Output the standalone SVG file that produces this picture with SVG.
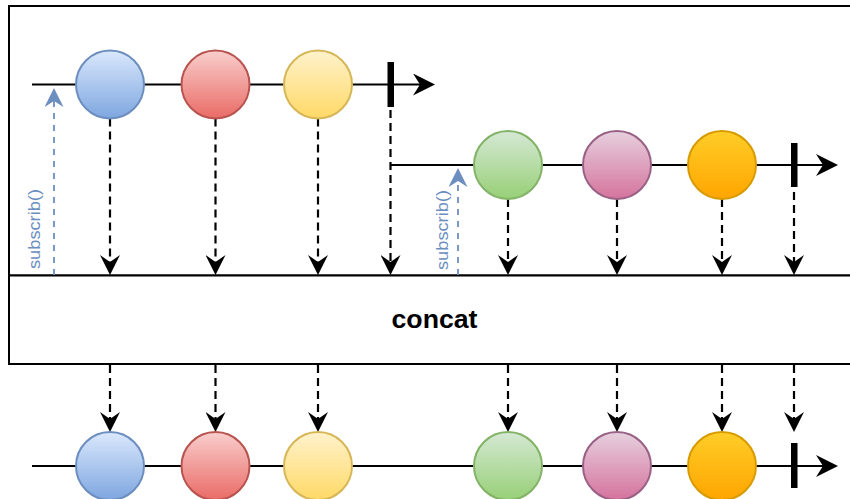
<svg xmlns="http://www.w3.org/2000/svg" width="850" height="499" viewBox="0 0 850 499">
<style>
.box{fill:#fff;stroke:#000;stroke-width:2}
.tl{fill:none;stroke:#000;stroke-width:2.2}
.dash{fill:none;stroke:#000;stroke-width:2.2;stroke-dasharray:8 5}
.bdash{fill:none;stroke:#6c8ebf;stroke-width:1.8;stroke-dasharray:6 6}
.bar{fill:#000}
.ev{stroke-width:2}
.sub{font-family:"Liberation Sans",Arial,sans-serif;font-size:16.5px;fill:#6c8ebf}
.op{font-family:"Liberation Sans",Arial,sans-serif;font-size:26px;font-weight:bold;fill:#000}
</style>
<defs>
<linearGradient id="gBlue" x1="0" y1="0" x2="0" y2="1"><stop offset="0" stop-color="#dae8fc"/><stop offset="1" stop-color="#7ea6e0"/></linearGradient>
<linearGradient id="gRed" x1="0" y1="0" x2="0" y2="1"><stop offset="0" stop-color="#f8cecc"/><stop offset="1" stop-color="#ea6b66"/></linearGradient>
<linearGradient id="gYel" x1="0" y1="0" x2="0" y2="1"><stop offset="0" stop-color="#fff2cc"/><stop offset="1" stop-color="#ffd966"/></linearGradient>
<linearGradient id="gGrn" x1="0" y1="0" x2="0" y2="1"><stop offset="0" stop-color="#d5e8d4"/><stop offset="1" stop-color="#97d077"/></linearGradient>
<linearGradient id="gPnk" x1="0" y1="0" x2="0" y2="1"><stop offset="0" stop-color="#e6d0de"/><stop offset="1" stop-color="#d5739d"/></linearGradient>
<linearGradient id="gOrg" x1="0" y1="0" x2="0" y2="1"><stop offset="0" stop-color="#ffcd28"/><stop offset="1" stop-color="#ffa500"/></linearGradient>
<marker id="ah" markerUnits="userSpaceOnUse" markerWidth="20" markerHeight="20" viewBox="0 0 20 20" refX="7" refY="10" orient="auto"><path d="M0,0 L20,10 L0,20 L7,10 Z" fill="#000"/></marker>
<marker id="ahL" markerUnits="userSpaceOnUse" markerWidth="22" markerHeight="22" viewBox="0 0 22 22" refX="7" refY="11" orient="auto"><path d="M0,0 L22,11 L0,22 L7,11 Z" fill="#000"/></marker>
<marker id="ahB" markerUnits="userSpaceOnUse" markerWidth="19" markerHeight="19" viewBox="0 0 19 19" refX="6" refY="9.5" orient="auto"><path d="M0,0 L19,9.5 L0,19 L6,9.5 Z" fill="#6c8ebf"/></marker>
</defs>

<g id="source-box"><rect class="box" x="9" y="6" width="900" height="269.5"/></g>
<g id="concat-box"><rect class="box" x="9" y="275.5" width="900" height="88.5"/>
<text class="op" x="434.5" y="328" text-anchor="middle" textLength="86" lengthAdjust="spacingAndGlyphs">concat</text></g>

<g id="connectors">
<path class="tl" d="M32,84.5 H420" marker-end="url(#ahL)"/>
<path class="tl" d="M390,165 H823" marker-end="url(#ahL)"/>
<path class="tl" d="M32,466 H823" marker-end="url(#ahL)"/>
<path class="bdash" d="M54,275 V101" marker-end="url(#ahB)"/>
<path class="bdash" d="M458,275 V181" marker-end="url(#ahB)"/>
<path class="dash" d="M110,118.5 V262" marker-end="url(#ah)"/>
<path class="dash" d="M215.5,118.5 V262" marker-end="url(#ah)"/>
<path class="dash" d="M318,118.5 V262" marker-end="url(#ah)"/>
<path class="dash" d="M390.5,110 V262" marker-end="url(#ah)"/>
<path class="dash" d="M508,199 V262" marker-end="url(#ah)"/>
<path class="dash" d="M617,199 V262" marker-end="url(#ah)"/>
<path class="dash" d="M722,199 V262" marker-end="url(#ah)"/>
<path class="dash" d="M794,192 V262" marker-end="url(#ah)"/>
<path class="dash" d="M110,365 V419" marker-end="url(#ah)"/>
<path class="dash" d="M215.5,365 V419" marker-end="url(#ah)"/>
<path class="dash" d="M318,365 V419" marker-end="url(#ah)"/>
<path class="dash" d="M508,365 V419" marker-end="url(#ah)"/>
<path class="dash" d="M617,365 V419" marker-end="url(#ah)"/>
<path class="dash" d="M722,365 V419" marker-end="url(#ah)"/>
<path class="dash" d="M794,365 V419" marker-end="url(#ah)"/>
</g>

<g id="subscribe-1"><text class="sub" transform="translate(40,229) rotate(-90)" text-anchor="middle" textLength="80" lengthAdjust="spacingAndGlyphs">subscrib()</text></g>
<g id="subscribe-2"><text class="sub" transform="translate(447.5,230) rotate(-90)" text-anchor="middle" textLength="80" lengthAdjust="spacingAndGlyphs">subscrib()</text></g>

<g id="s1-blue"><circle class="ev" cx="110" cy="84.5" r="34" fill="url(#gBlue)" stroke="#6c8ebf"/></g>
<g id="s1-red"><circle class="ev" cx="215.5" cy="84.5" r="34" fill="url(#gRed)" stroke="#b85450"/></g>
<g id="s1-yellow"><circle class="ev" cx="318" cy="84.5" r="34" fill="url(#gYel)" stroke="#d6b656"/></g>
<g id="s1-complete"><rect class="bar" x="387.5" y="62" width="6.5" height="45"/></g>

<g id="s2-green"><circle class="ev" cx="508" cy="165" r="34" fill="url(#gGrn)" stroke="#82b366"/></g>
<g id="s2-pink"><circle class="ev" cx="617" cy="165" r="34" fill="url(#gPnk)" stroke="#996185"/></g>
<g id="s2-orange"><circle class="ev" cx="722" cy="165" r="34" fill="url(#gOrg)" stroke="#d79b00"/></g>
<g id="s2-complete"><rect class="bar" x="791" y="143" width="6.5" height="44"/></g>

<g id="out-blue"><circle class="ev" cx="110" cy="466" r="34" fill="url(#gBlue)" stroke="#6c8ebf"/></g>
<g id="out-red"><circle class="ev" cx="215.5" cy="466" r="34" fill="url(#gRed)" stroke="#b85450"/></g>
<g id="out-yellow"><circle class="ev" cx="318" cy="466" r="34" fill="url(#gYel)" stroke="#d6b656"/></g>
<g id="out-green"><circle class="ev" cx="508" cy="466" r="34" fill="url(#gGrn)" stroke="#82b366"/></g>
<g id="out-pink"><circle class="ev" cx="617" cy="466" r="34" fill="url(#gPnk)" stroke="#996185"/></g>
<g id="out-orange"><circle class="ev" cx="722" cy="466" r="34" fill="url(#gOrg)" stroke="#d79b00"/></g>
<g id="out-complete"><rect class="bar" x="791" y="443" width="6.5" height="45"/></g>
</svg>
